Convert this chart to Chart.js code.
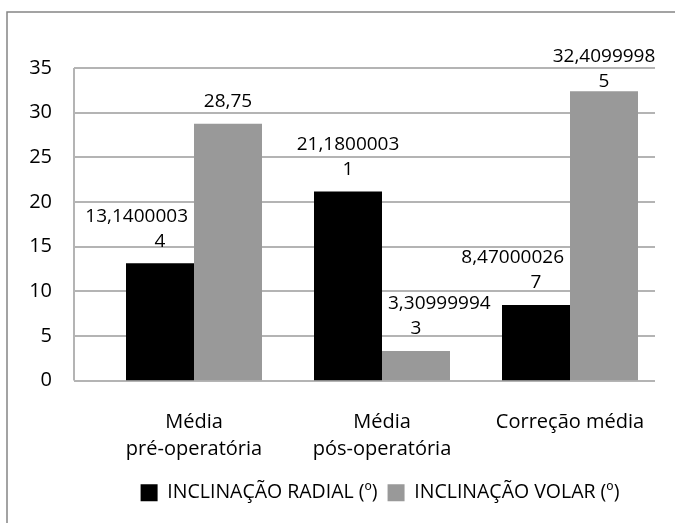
<!DOCTYPE html>
<html>
<head>
<meta charset="utf-8">
<script src="https://cdn.jsdelivr.net/npm/chart.js@4"></script>
<style>
  html, body { margin: 0; padding: 0; background: #fff; }
  #wrap { width: 675px; height: 523px; position: relative; }
</style>
</head>
<body>
<div id="wrap"><canvas id="chart" width="675" height="523"></canvas></div>
<script>
// categories and values
const categories = [
    ['Média', 'pré-operatória'],
    ['Média', 'pós-operatória'],
    'Correção média'
];
const radial = [13.14000034, 21.18000031, 8.470000267];
const volar = [28.75, 3.309999943, 32.40999985];
const seriesNames = ['INCLINAÇÃO RADIAL (º)', 'INCLINAÇÃO VOLAR (º)'];
const yTicks = [0, 5, 10, 15, 20, 25, 30, 35];

const FONT = "'Open Sans', sans-serif";
const gridColor = '#b4b4b4';

// frame + grid lines drawn by hand, the Excel grid runs past the category band
const backdrop = {
    id: 'backdrop',
    beforeDraw(chart) {
        const ctx = chart.ctx;
        ctx.save();
        ctx.strokeStyle = '#858585';
        ctx.lineWidth = 1.5;
        ctx.beginPath();
        ctx.moveTo(7, chart.height);
        ctx.lineTo(7, 12);
        ctx.lineTo(chart.width, 12);
        ctx.stroke();
        ctx.restore();
        // legend sits centred under the plot, not under the whole canvas
        if (chart.legend) {
            chart.legend.left += 38;
            chart.legend.right += 38;
        }
    },
    beforeDatasetsDraw(chart) {
        const ctx = chart.ctx;
        const area = chart.chartArea;
        const y = chart.scales.y;
        const left = area.left - 26;
        const right = area.right - 9;
        ctx.save();
        ctx.strokeStyle = gridColor;
        ctx.lineWidth = 2;
        ctx.beginPath();
        yTicks.forEach(v => {
            const py = Math.round(y.getPixelForValue(v));
            ctx.moveTo(left, py);
            ctx.lineTo(right, py);
        });
        ctx.moveTo(left, y.getPixelForValue(0));
        ctx.lineTo(left, y.getPixelForValue(35));
        ctx.stroke();
        ctx.restore();
    }
};

// value labels, Excel style: comma decimal, wrapped at 10 characters,
// pushed sideways when a taller neighbour bar is in the way
const valueLabels = {
    id: 'valueLabels',
    afterDatasetsDraw(chart) {
        const ctx = chart.ctx;
        const lh = 25;
        ctx.save();
        ctx.font = '19px ' + FONT;
        ctx.fillStyle = '#000';
        ctx.textAlign = 'center';
        ctx.textBaseline = 'middle';
        chart.data.datasets.forEach((ds, i) => {
            const other = chart.getDatasetMeta(1 - i).data;
            chart.getDatasetMeta(i).data.forEach((bar, j) => {
                const txt = String(ds.data[j]).replace('.', ',');
                const lines = [];
                for (let k = 0; k < txt.length; k += 10) lines.push(txt.slice(k, k + 10));
                let top = bar.y - 22 - (lines.length - 1) * lh;
                top = Math.max(top, chart.chartArea.top - 11);
                const nb = other[j];
                lines.forEach((line, n) => {
                    const ly = top + n * lh;
                    const w = ctx.measureText(line).width;
                    let cx = bar.x;
                    if (nb.y < ly + 10) {
                        if (nb.x > bar.x) {
                            const edge = nb.x - nb.width / 2 - 6;
                            if (cx + w / 2 > edge) cx = edge - w / 2;
                        } else {
                            const edge = nb.x + nb.width / 2 + 6;
                            if (cx - w / 2 < edge) cx = edge + w / 2;
                        }
                    }
                    ctx.fillText(line, cx, ly);
                });
            });
        });
        ctx.restore();
    }
};

new Chart(document.getElementById('chart'), {
    type: 'bar',
    data: {
        labels: categories,
        datasets: [
            {
                label: seriesNames[0],
                data: radial,
                backgroundColor: '#000000',
                categoryPercentage: 0.7234,
                barPercentage: 1
            },
            {
                label: seriesNames[1],
                data: volar,
                backgroundColor: '#999999',
                categoryPercentage: 0.7234,
                barPercentage: 1
            }
        ]
    },
    options: {
        responsive: false,
        animation: false,
        layout: {
            padding: { left: 20, right: 11, top: 68, bottom: 10.5 }
        },
        plugins: {
            legend: {
                position: 'bottom',
                labels: {
                    color: '#000',
                    boxWidth: 17,
                    boxHeight: 17,
                    padding: 10,
                    font: { family: FONT, size: 19.5 }
                }
            },
            tooltip: { enabled: false }
        },
        scales: {
            x: {
                grid: { display: false },
                border: { display: false },
                ticks: {
                    color: '#000',
                    padding: 20.5,
                    maxRotation: 0,
                    autoSkip: false,
                    font: { family: FONT, size: 20, lineHeight: 27 / 20 }
                },
                afterFit(scale) { scale.height = 92.5; }
            },
            y: {
                min: 0,
                max: 35,
                grid: { display: false, drawTicks: false },
                border: { display: false },
                ticks: {
                    stepSize: 5,
                    color: '#000',
                    padding: 48,
                    font: { family: FONT, size: 20 }
                },
                afterFit(scale) { scale.width = 80; }
            }
        }
    },
    plugins: [backdrop, valueLabels]
});
</script>
</body>
</html>
